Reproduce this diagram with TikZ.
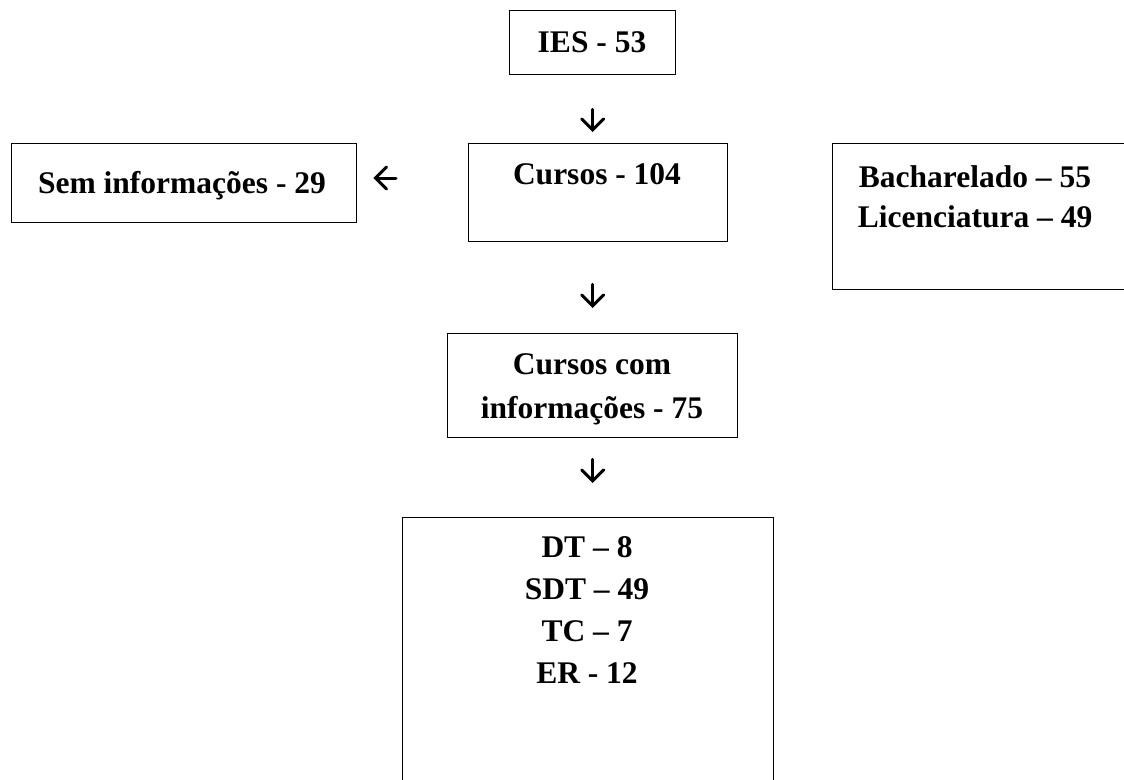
\documentclass[tikz,border=0pt]{standalone}
\usepackage{fontspec}
\setmainfont{Liberation Serif}
\usetikzlibrary{arrows.meta}
\begin{document}
\begin{tikzpicture}[x=1pt,y=-1pt,
  box/.style={draw, line width=1.4pt, inner sep=0pt, anchor=north west},
  txt/.style={font=\fontsize{31.5}{42}\selectfont\bfseries, align=center, inner sep=0pt, anchor=base},
  arr/.style={line width=3pt, line cap=round, -{Straight Barb[length=11pt,width=22pt,line cap=round]}}]
\useasboundingbox (0,0) rectangle (1124,779);
\clip (0,0) rectangle (1124,779);
% boxes
\node[box, minimum width=166pt, minimum height=64pt]  (ies)    at (509,10)  {};
\node[box, minimum width=345pt, minimum height=79pt]  (sem)    at (11,143)  {};
\node[box, minimum width=259pt, minimum height=98pt]  (cursos) at (468,143) {};
\node[box, minimum width=320pt, minimum height=146pt] (grau)   at (832,143) {};
\node[box, minimum width=290pt, minimum height=104pt] (ccom)   at (447,333) {};
\node[box, minimum width=371pt, minimum height=300pt] (tipos)  at (402,517) {};
% texts (anchor=base is the baseline of the last line)
\node[txt] (ties)    at (592,52)  {IES - 53};
\node[txt] (tsem)    at (182,193) {Sem informações - 29};
\node[txt] (tcursos) at (597,184) {Cursos - 104};
\node[txt] (tgrau)   at (975,227) {Bacharelado – 55\\[-2pt]Licenciatura – 49};
\node[txt] (tccom)   at (592,418) {Cursos com\\[2pt]informações - 75};
\node[txt] (ttipos)  at (587,683) {DT – 8\\SDT – 49\\TC – 7\\ER - 12};
% arrows
\coordinate (la) at (0,178);
\draw[arr, shorten <=34pt, shorten >=11pt] (ies.south) -- (ies.south |- cursos.north);
\draw[arr, shorten <=42pt, shorten >=25pt] (ccom.north |- cursos.south) -- (ccom.north);
\draw[arr, shorten <=21pt, shorten >=34pt] (ccom.south) -- (ccom.south |- tipos.north);
\draw[arr, shorten <=72pt, shorten >=16pt] (cursos.west |- la) -- (sem.east |- la);
\end{tikzpicture}
\end{document}
